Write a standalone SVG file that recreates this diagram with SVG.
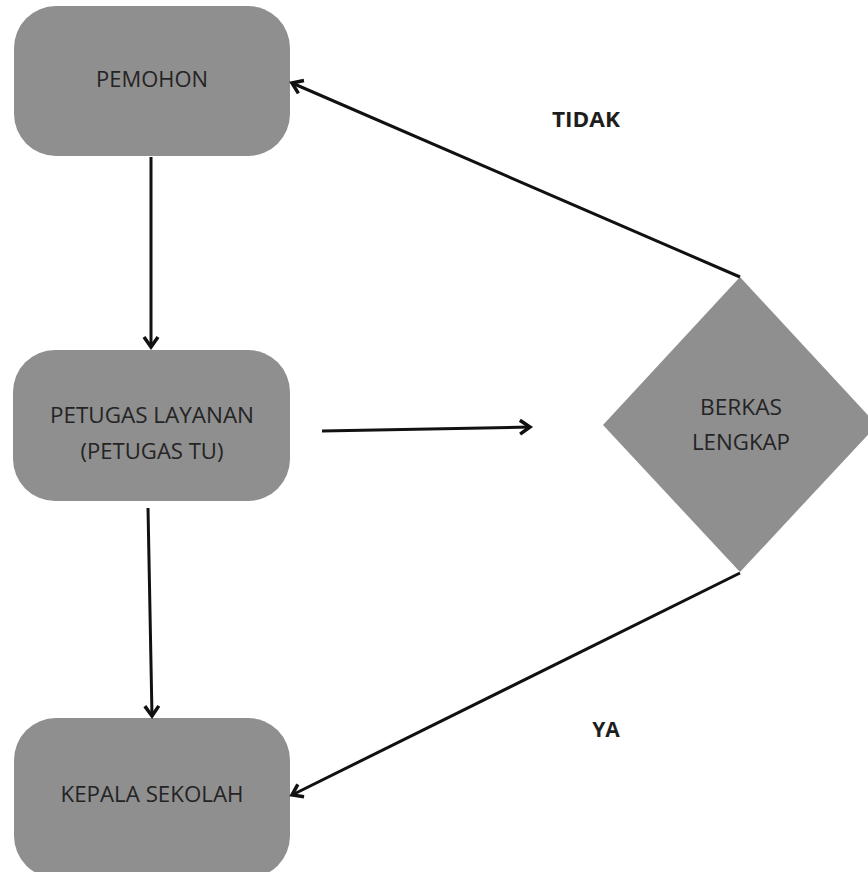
<svg xmlns="http://www.w3.org/2000/svg" width="868" height="872" viewBox="0 0 868 872">
<style>
.node{fill:#8f8f8f;}
.lbl{font-family:"Open Sans","Liberation Sans",sans-serif;font-size:21px;font-weight:500;fill:#242424;text-anchor:middle;}
.edge{stroke:#111;stroke-width:3;fill:none;marker-end:url(#arr);}
.elbl{font-family:"Open Sans","Liberation Sans",sans-serif;font-size:21px;font-weight:bold;fill:#1e1e1e;text-anchor:middle;}
</style>
<defs>
<marker id="arr" markerUnits="userSpaceOnUse" markerWidth="20" markerHeight="20" viewBox="0 0 20 20" refX="14" refY="10" orient="auto">
<path d="M4,3 L14,10 L4,17" fill="none" stroke="#111" stroke-width="3.5" stroke-linejoin="miter"/>
</marker>
</defs>
<rect width="868" height="872" fill="#ffffff"/>
<g id="pemohon">
<rect class="node" x="14" y="6" width="276" height="150" rx="42"/>
<text class="lbl" x="152" y="87" textLength="112" lengthAdjust="spacingAndGlyphs">PEMOHON</text>
</g>
<g id="petugas">
<rect class="node" x="13" y="350" width="277" height="151" rx="42"/>
<text class="lbl" x="152" y="423" textLength="204" lengthAdjust="spacingAndGlyphs">PETUGAS LAYANAN</text>
<text class="lbl" x="152" y="459" textLength="143" lengthAdjust="spacingAndGlyphs">(PETUGAS TU)</text>
</g>
<g id="kepala">
<rect class="node" x="14" y="718" width="276" height="160" rx="42"/>
<text class="lbl" x="152" y="802" textLength="183" lengthAdjust="spacingAndGlyphs">KEPALA SEKOLAH</text>
</g>
<g id="berkas">
<polygon class="node" points="740,277 877,425 740,572 603,425"/>
<text class="lbl" x="741" y="415" textLength="82" lengthAdjust="spacingAndGlyphs">BERKAS</text>
<text class="lbl" x="741" y="450" textLength="98" lengthAdjust="spacingAndGlyphs">LENGKAP</text>
</g>
<g id="connectors">
<line class="edge" x1="151" y1="157" x2="151" y2="347"/>
<line class="edge" x1="322" y1="431" x2="530" y2="427"/>
<line class="edge" x1="148" y1="508" x2="152" y2="716"/>
<line class="edge" x1="740" y1="277" x2="292" y2="83"/>
<line class="edge" x1="740" y1="573" x2="292" y2="795"/>
</g>
<text class="elbl" x="586" y="127" textLength="68" lengthAdjust="spacingAndGlyphs">TIDAK</text>
<text class="elbl" x="606" y="737">YA</text>
</svg>
